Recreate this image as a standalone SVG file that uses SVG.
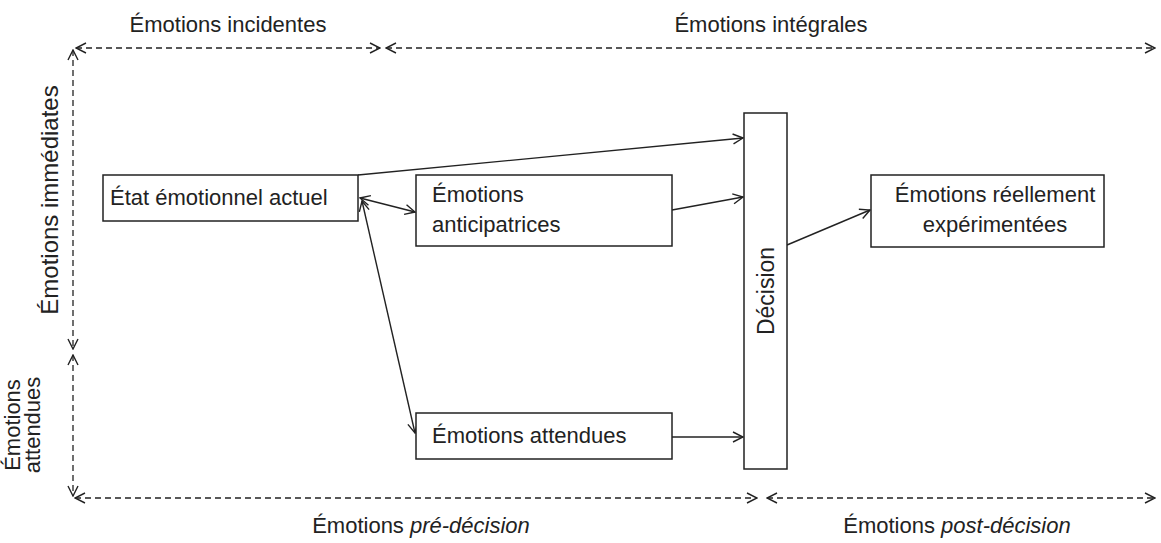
<svg xmlns="http://www.w3.org/2000/svg" width="1161" height="543" viewBox="0 0 1161 543">
<defs>
<marker id="ah" markerWidth="12" markerHeight="12" refX="11" refY="6" orient="auto-start-reverse" markerUnits="userSpaceOnUse">
<path d="M1,1 L11,6 L1,11" fill="none" stroke="#222" stroke-width="1.4"/>
</marker>
<style>
text{font-family:"Liberation Sans",Arial,sans-serif;font-size:22px;fill:#222}
.box{fill:#fff;stroke:#222;stroke-width:1.5}
.dash{stroke:#222;stroke-width:1.3;stroke-dasharray:6 4;fill:none}
.con{stroke:#222;stroke-width:1.4;fill:none}
.it{font-style:italic}
</style>
</defs>
<rect width="1161" height="543" fill="#fff"/>
<g id="axes">
<line class="dash" x1="76" y1="48" x2="380" y2="48" marker-start="url(#ah)" marker-end="url(#ah)"/>
<line class="dash" x1="386" y1="48" x2="1155" y2="48" marker-start="url(#ah)" marker-end="url(#ah)"/>
<line class="dash" x1="73" y1="50" x2="73" y2="349" marker-start="url(#ah)" marker-end="url(#ah)"/>
<line class="dash" x1="73" y1="355" x2="73" y2="496" marker-start="url(#ah)" marker-end="url(#ah)"/>
<line class="dash" x1="75" y1="498" x2="757" y2="498" marker-start="url(#ah)" marker-end="url(#ah)"/>
<line class="dash" x1="767" y1="498" x2="1155" y2="498" marker-start="url(#ah)" marker-end="url(#ah)"/>
<text x="228" y="32" text-anchor="middle">Émotions incidentes</text>
<text x="771" y="32" text-anchor="middle">Émotions intégrales</text>
<text transform="translate(58,200) rotate(-90)" text-anchor="middle" style="font-size:24px">Émotions immédiates</text>
<text transform="translate(20,425) rotate(-90)" text-anchor="middle">Émotions</text>
<text transform="translate(40,425) rotate(-90)" text-anchor="middle">attendues</text>
<text x="421" y="533" text-anchor="middle">Émotions <tspan class="it">pré-décision</tspan></text>
<text x="957" y="533" text-anchor="middle">Émotions <tspan class="it">post-décision</tspan></text>
</g>
<g id="connectors">
<line class="con" x1="358" y1="175" x2="743" y2="138" marker-end="url(#ah)"/>
<line class="con" x1="672" y1="210" x2="743" y2="197" marker-end="url(#ah)"/>
<line class="con" x1="672" y1="437" x2="743" y2="437" marker-end="url(#ah)"/>
<line class="con" x1="787" y1="245" x2="870" y2="210" marker-end="url(#ah)"/>
<line class="con" x1="360" y1="198" x2="415" y2="212" marker-start="url(#ah)" marker-end="url(#ah)"/>
<line class="con" x1="362" y1="201" x2="415" y2="433" marker-start="url(#ah)" marker-end="url(#ah)"/>
</g>
<g id="etat">
<rect class="box" x="103" y="175" width="255" height="46"/>
<text x="110" y="205">État émotionnel actuel</text>
</g>
<g id="anticipatrices">
<rect class="box" x="416" y="175" width="256" height="71"/>
<text x="432" y="202">Émotions</text>
<text x="432" y="232">anticipatrices</text>
</g>
<g id="attendues">
<rect class="box" x="416" y="413" width="256" height="46"/>
<text x="432" y="443">Émotions attendues</text>
</g>
<g id="decision">
<rect class="box" x="744" y="113" width="43" height="356"/>
<text transform="translate(774,291) rotate(-90)" text-anchor="middle" style="font-size:23px">Décision</text>
</g>
<g id="reellement">
<rect class="box" x="871" y="175" width="233" height="72"/>
<text x="995" y="202" text-anchor="middle">Émotions réellement</text>
<text x="995" y="232" text-anchor="middle">expérimentées</text>
</g>
</svg>
